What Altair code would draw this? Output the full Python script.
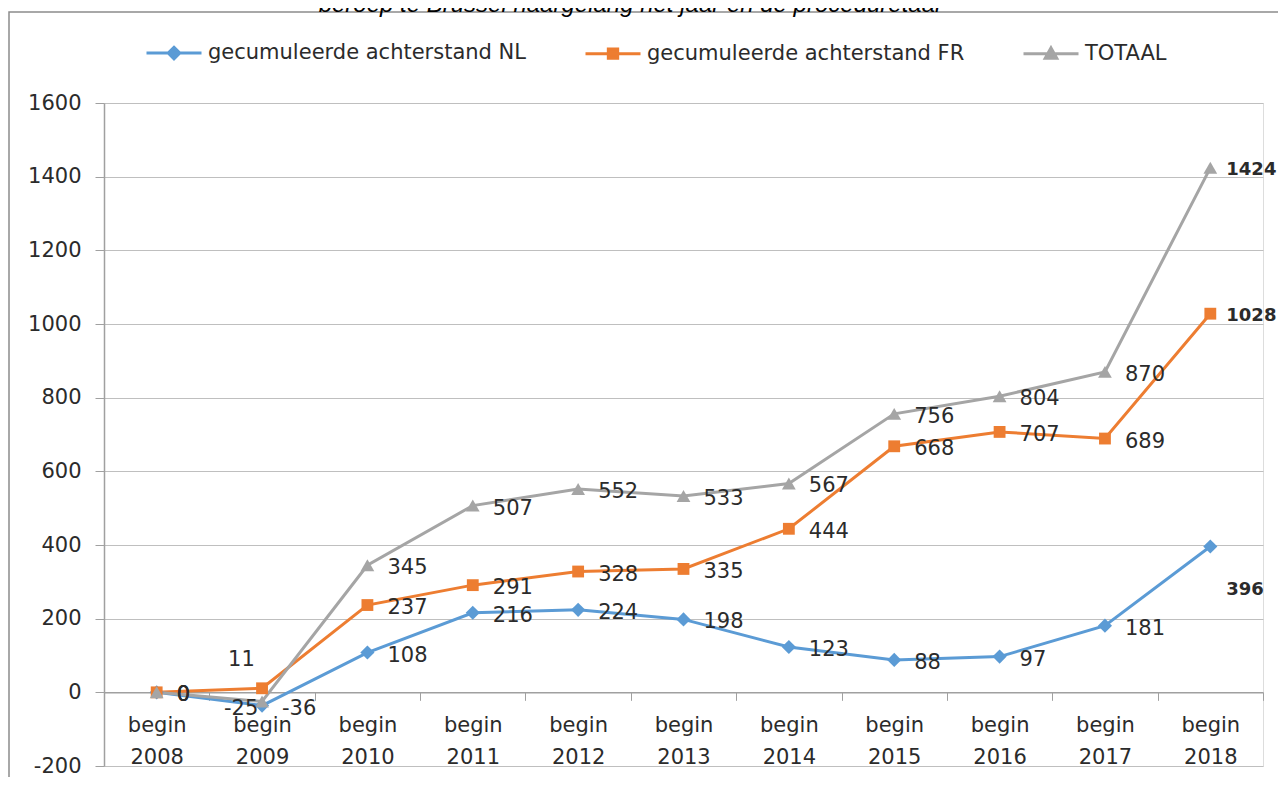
import altair as alt
import pandas as pd

# ---- data ----
years = ["begin 2008", "begin 2009", "begin 2010", "begin 2011", "begin 2012", "begin 2013",
         "begin 2014", "begin 2015", "begin 2016", "begin 2017", "begin 2018"]
series_names = ["gecumuleerde achterstand NL", "gecumuleerde achterstand FR", "TOTAAL"]
nl = [0, -36, 108, 216, 224, 198, 123, 88, 97, 181, 396]
fr = [0, 11, 237, 291, 328, 335, 444, 668, 707, 689, 1028]
totaal = [0, -25, 345, 507, 552, 533, 567, 756, 804, 870, 1424]
y_ticks = [-200, 0, 200, 400, 600, 800, 1000, 1200, 1400, 1600]
title_text = "beroep te Brussel naargelang het jaar en de proceduretaal"

colors = ["#5B9BD5", "#ED7D31", "#A5A5A5"]
shapes = ["diamond", "square", "triangle-up"]
marker_sizes = [200, 140, 190]

rows = []
for s, vals in zip(series_names, [nl, fr, totaal]):
    for yr, v in zip(years, vals):
        rows.append({"series": s, "year": yr, "value": v, "label": str(v)})
df = pd.DataFrame(rows)

FONT = "DejaVu Sans"
TEXT = "#2b2b2b"
W, H = 1159, 663

x_enc = alt.X(
    "year:N", sort=years, title=None, bandPosition=0.5,
    scale=alt.Scale(type="band", paddingInner=0, paddingOuter=0),
    axis=alt.Axis(
        offset=-H * 200 / 1800, tickBand="extent", labelAngle=0,
        labelExpr="split(datum.label, ' ')", labelLineHeight=32,
        labelFont=FONT, labelFontSize=21, labelColor=TEXT, labelPadding=14,
        tickSize=8, tickColor="#a0a0a0", domainColor="#a0a0a0", domainWidth=1.5,
        grid=False, labelBaseline="top",
    ),
)
y_enc = alt.Y(
    "value:Q", title=None,
    scale=alt.Scale(domain=[-200, 1600], nice=False, zero=False),
    axis=alt.Axis(
        values=y_ticks, labelExpr="toString(datum.value)",
        labelFont=FONT, labelFontSize=21, labelColor=TEXT,
        labelPadding=14, tickSize=9, tickColor="#a0a0a0", domainColor="#a0a0a0",
        domainWidth=1.5, gridColor="#bfbfbf", gridWidth=1.2,
    ),
)

p = "M-1,0L1,0"
legend_paths = [
    p + "M0,-0.21L0.21,0L0,0.21L-0.21,0Z",
    p + "M-0.17,-0.17L0.17,-0.17L0.17,0.17L-0.17,0.17Z",
    p + "M0,-0.21L0.21,0.17L-0.21,0.17Z",
]
shape_expr = (
    f"datum.value === '{series_names[0]}' ? '{legend_paths[0]}' : "
    f"datum.value === '{series_names[1]}' ? '{legend_paths[1]}' : '{legend_paths[2]}'"
)
col_expr = (
    f"datum.value === '{series_names[0]}' ? '{colors[0]}' : "
    f"datum.value === '{series_names[1]}' ? '{colors[1]}' : '{colors[2]}'"
)

color_enc = alt.Color(
    "series:N",
    scale=alt.Scale(domain=series_names, range=colors),
    legend=alt.Legend(
        title=None, orient="none", legendX=41, legendY=-79, direction="horizontal",
        columns=3, symbolSize=3025, labelFont=FONT, labelFontSize=21, labelColor=TEXT,
        labelOffset=5, columnPadding=52, labelLimit=0,
        symbolType={"expr": shape_expr},
        symbolStrokeColor={"expr": col_expr},
        symbolFillColor={"expr": col_expr},
        symbolStrokeWidth=3, symbolOpacity=1,
    ),
)

base = alt.Chart(df)

frame = alt.Chart(pd.DataFrame({"k": [0]})).mark_rect(
    fillOpacity=0, stroke="#8c8c8c", strokeWidth=1.5
).encode(
    x=alt.value(-95), x2=alt.value(W + 60), y=alt.value(-91), y2=alt.value(H + 80)
)

lines = [
    base.transform_filter(alt.datum.series == s).mark_line(strokeWidth=3).encode(
        x=x_enc, y=y_enc, color=color_enc
    )
    for s in series_names
]

points = [
    base.transform_filter(alt.datum.series == s).mark_point(
        filled=True, opacity=1, shape=shp, size=sz
    ).encode(x=x_enc, y=y_enc, color=color_enc)
    for s, shp, sz in zip(series_names, shapes, marker_sizes)
]


def labels(flt, dx, dy, weight="normal", size=21):
    return base.transform_filter(flt).mark_text(
        align="left", baseline="middle", dx=dx, dy=dy, font=FONT, fontSize=size,
        fontWeight=weight, color=TEXT,
    ).encode(x=x_enc, y=y_enc, text="label:N")


first_last = f"datum.year === '{years[-1]}'"
fr09 = f"datum.series === '{series_names[1]}' && datum.year === '{years[1]}'"
tot09 = f"datum.series === '{series_names[2]}' && datum.year === '{years[1]}'"
nl18 = f"datum.series === '{series_names[0]}' && datum.year === '{years[-1]}'"

lab_normal = labels(f"!({first_last}) && !({fr09}) && !({tot09})", 20, 3)
lab_bold = labels(f"({first_last}) && !({nl18})", 16, 2, "bold", 18)
lab_nl18 = labels(nl18, 16, 44, "bold", 18)
lab_fr09 = labels(fr09, -34, -28)
lab_tot09 = labels(tot09, -38, 7)

chart = alt.layer(
    frame, *lines, *points, lab_normal, lab_bold, lab_nl18, lab_fr09, lab_tot09
).properties(
    width=W, height=H,
    title=alt.Title(title_text, font="Liberation Sans", fontStyle="italic", fontSize=24,
                    fontWeight="normal", color="#000000", anchor="middle", dx=-54, dy=10),
    autosize=alt.AutoSizeParams(type="none"),
    padding={"left": 96, "top": 95, "right": 15, "bottom": 11},
).configure_view(stroke=None).configure(background="white")

chart.save("out.html", embed_options={"renderer": "svg", "actions": False})
